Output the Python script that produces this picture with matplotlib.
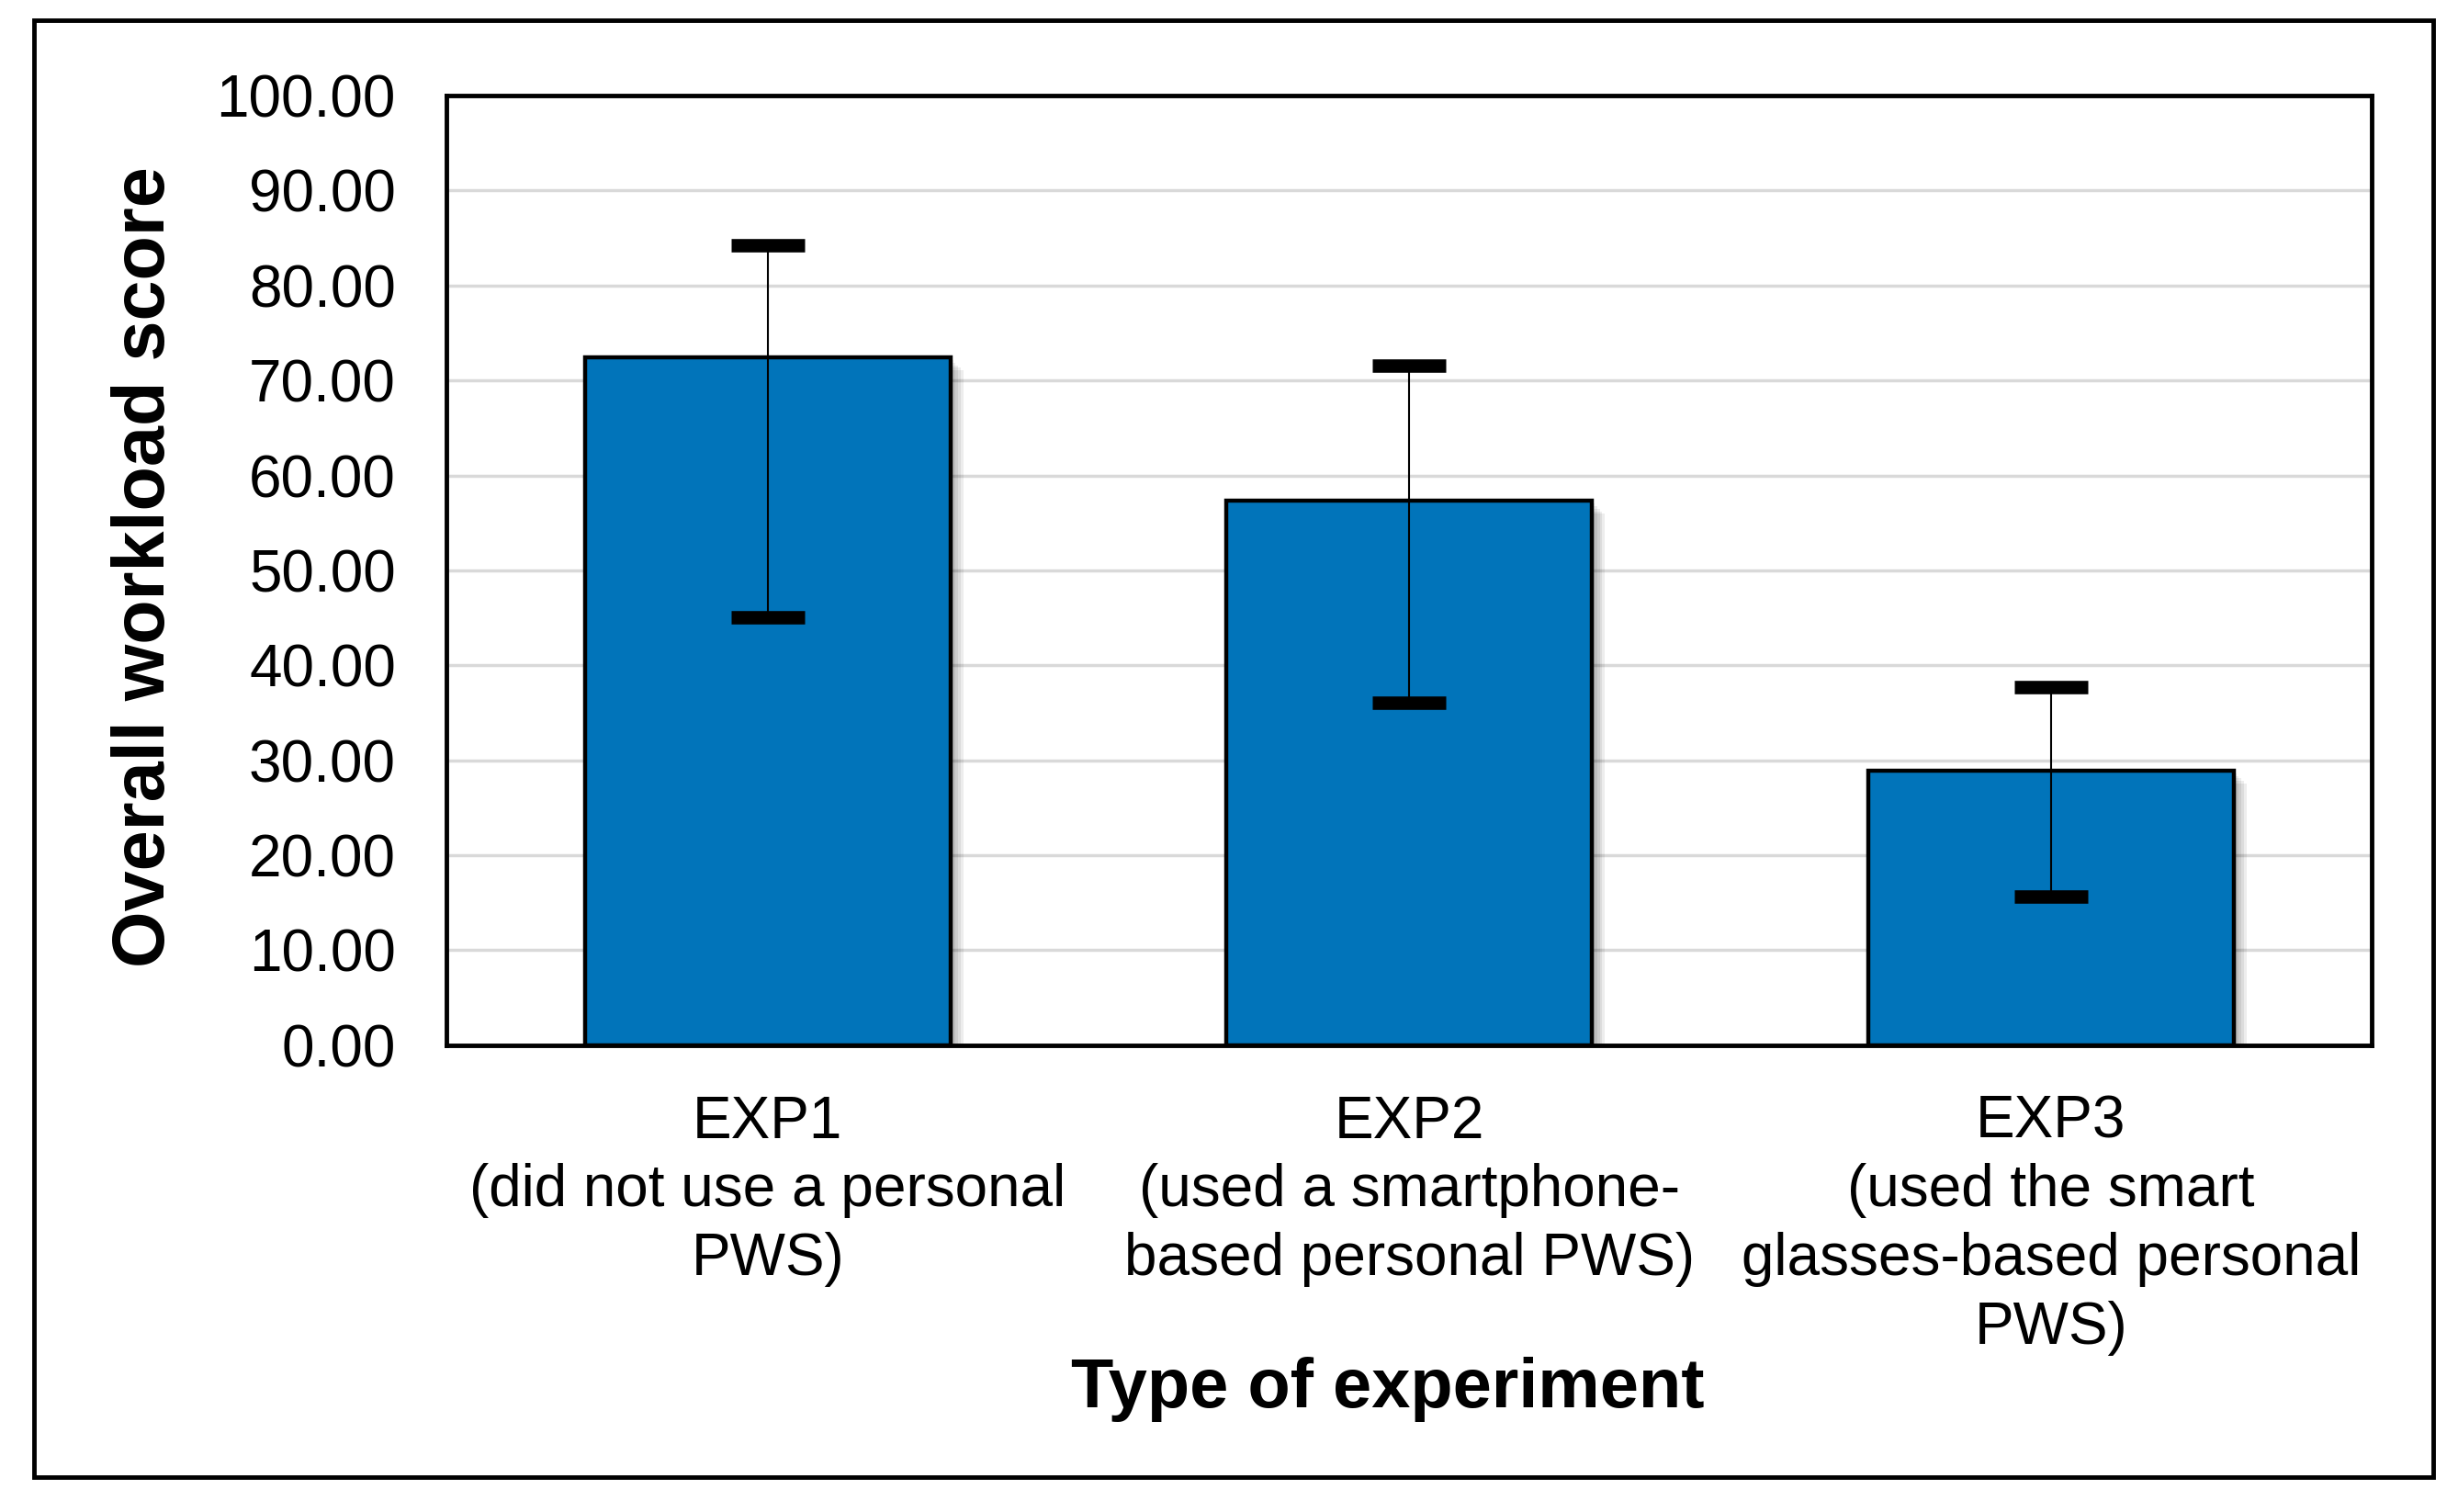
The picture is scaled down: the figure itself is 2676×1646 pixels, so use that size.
import matplotlib.pyplot as plt
import matplotlib.patheffects as pe
from matplotlib.patches import Rectangle
import numpy as np

plt.rcParams['font.family'] = ['Liberation Sans', 'DejaVu Sans']

categories = ['EXP1\n(did not use a personal\nPWS)',
              'EXP2\n(used a smartphone-\nbased personal PWS)',
              'EXP3\n(used the smart\nglasses-based personal\nPWS)']
scores = [72.4, 57.3, 28.9]
err_upper = [84.2, 71.6, 37.7]   # top of each error bar
err_lower = [45.1, 36.1, 15.6]   # bottom of each error bar
y_ticks = [0, 10, 20, 30, 40, 50, 60, 70, 80, 90, 100]

fig = plt.figure(figsize=(26.76, 16.46), dpi=100)
ax = fig.add_axes([0.1818, 0.3088, 0.7831, 0.628])

x = np.arange(len(categories))
scores = np.array(scores)
yerr = [scores - np.array(err_lower), np.array(err_upper) - scores]

# soft shadow to the right of the bars, a few layers to fake a blur
shadow = [pe.SimplePatchShadow(offset=(d, -d), shadow_rgbFace='black', alpha=0.07)
          for d in (2, 4, 6, 8, 10)]
ax.bar(x, scores, width=0.57, color='#0174BA', edgecolor='black', linewidth=3.2,
       zorder=3, path_effects=shadow + [pe.Normal()])

ax.errorbar(x, scores, yerr=yerr, fmt='none', ecolor='black', elinewidth=1.5,
            capsize=28.8, capthick=10.5, zorder=4)

ax.set_xlim(-0.5, 2.5)
ax.set_ylim(0, 100)
ax.set_yticks(y_ticks)
ax.set_yticklabels([f'{v:.2f}' for v in y_ticks])
ax.set_xticks(x)
ax.set_xticklabels(categories, linespacing=1.31)
ax.tick_params(axis='y', length=0, pad=40, labelsize=46)
ax.tick_params(axis='x', length=0, pad=39, labelsize=46)

ax.yaxis.grid(True, color='#D9D9D9', linewidth=2.5, zorder=0)
ax.set_axisbelow(True)
for s in ax.spines.values():
    s.set_linewidth(3.5)
    s.set_color('black')
    s.set_zorder(5)

fig.text(0.0593, 0.6249, 'Overall workload score', rotation=90, fontsize=57,
         fontweight='bold', ha='center', va='center')
fig.text(0.5644, 0.081, 'Type of experiment', fontsize=54.5, fontweight='bold',
         ha='center', va='center')

# outer frame around the whole chart
fig.patches.append(Rectangle((0.014, 0.023), 0.976, 0.9635, transform=fig.transFigure,
                             fill=False, linewidth=3.5, edgecolor='black'))

plt.savefig('out.png', dpi=100)
plt.close(fig)
